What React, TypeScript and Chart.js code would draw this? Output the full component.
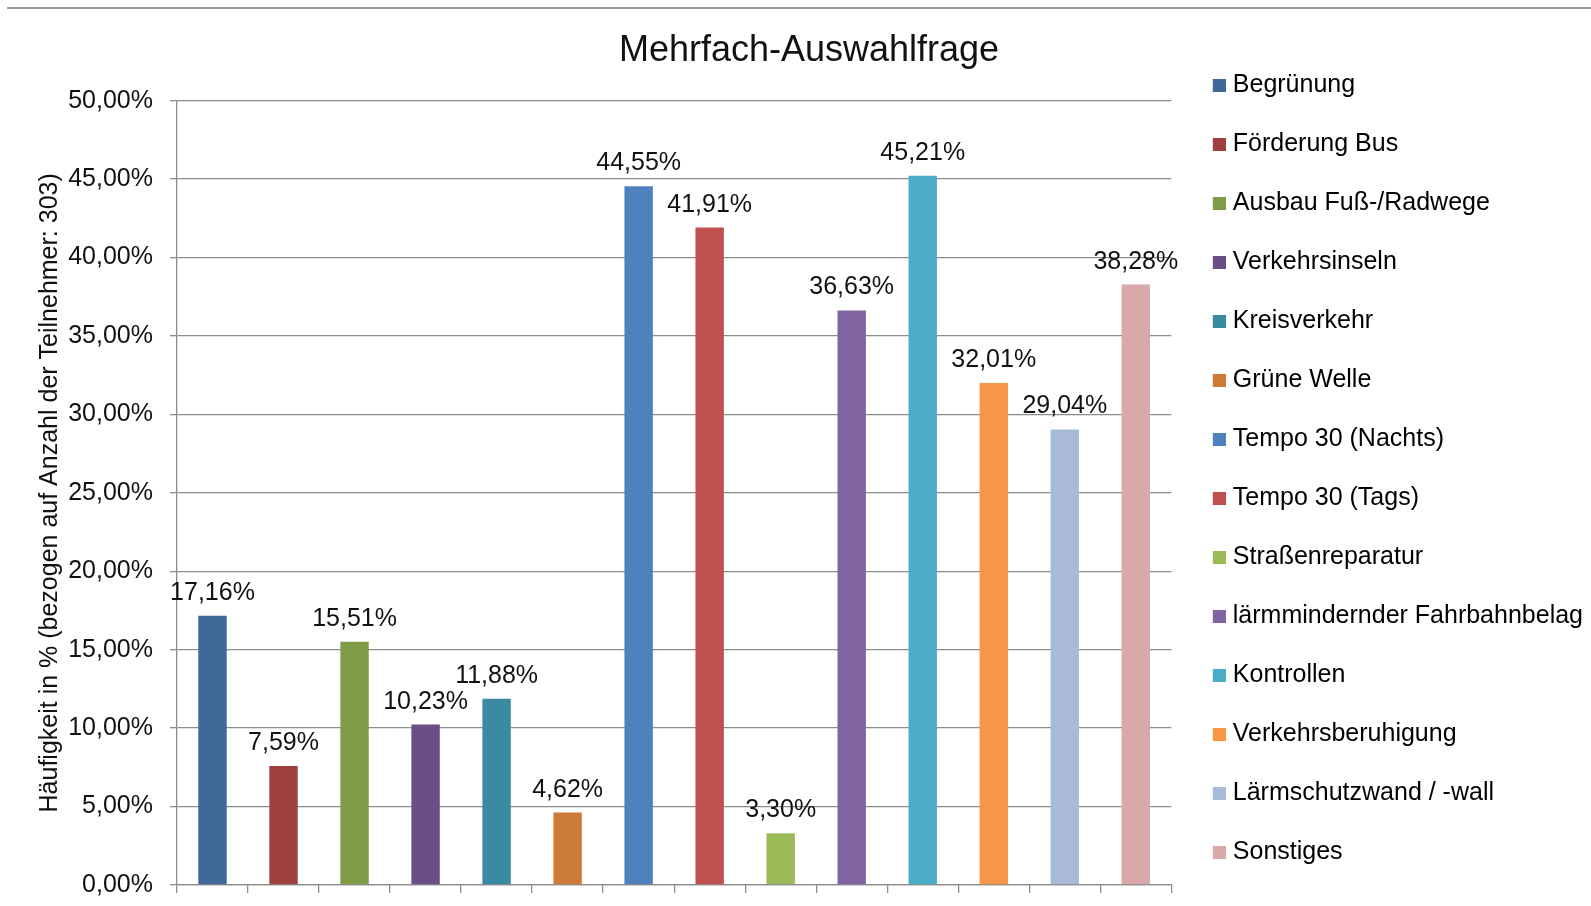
import React, { useEffect, useRef } from "react";
import { Chart, registerables } from "chart.js";

Chart.register(...registerables);

const chartTitle = "Mehrfach-Auswahlfrage";
const yAxisTitle = "Häufigkeit in % (bezogen auf Anzahl der Teilnehmer: 303)";

const categories = [
  "Begrünung",
  "Förderung Bus",
  "Ausbau Fuß-/Radwege",
  "Verkehrsinseln",
  "Kreisverkehr",
  "Grüne Welle",
  "Tempo 30 (Nachts)",
  "Tempo 30 (Tags)",
  "Straßenreparatur",
  "lärmmindernder Fahrbahnbelag",
  "Kontrollen",
  "Verkehrsberuhigung",
  "Lärmschutzwand / -wall",
  "Sonstiges",
];

const values = [17.16, 7.59, 15.51, 10.23, 11.88, 4.62, 44.55, 41.91, 3.3, 36.63, 45.21, 32.01, 29.04, 38.28];

const colors = [
  "#406898",
  "#9E413E",
  "#7F9B48",
  "#6A4F86",
  "#3A8BA2",
  "#CC7B38",
  "#4F81BD",
  "#C0504D",
  "#9BBB59",
  "#8064A2",
  "#4BACC6",
  "#F79646",
  "#A9BAD7",
  "#D9A8A8",
];

const yMin = 0;
const yMax = 50;
const yStep = 5;

const FONT = "'Liberation Sans', Arial, sans-serif";
const TEXT = "#111111";
const GRID = "#8c8c8c";

const fmt = (v: number) => v.toFixed(2).replace(".", ",") + "%";

// legend marker: 13px square placed in the right half of a 26px wide canvas
const makeMarker = (color: string) => {
  const c = document.createElement("canvas");
  c.width = 26;
  c.height = 13;
  const g = c.getContext("2d");
  if (g) {
    g.fillStyle = color;
    g.fillRect(13, 0, 13, 13);
  }
  return c;
};

const valueLabels = {
  id: "valueLabels",
  afterDatasetsDraw(chart: any) {
    const ctx = chart.ctx;
    const meta = chart.getDatasetMeta(0);
    ctx.save();
    ctx.font = `25px ${FONT}`;
    ctx.fillStyle = TEXT;
    ctx.textAlign = "center";
    ctx.textBaseline = "alphabetic";
    meta.data.forEach((el: any, i: number) => {
      const v = chart.data.datasets[0].data[i];
      ctx.fillText(fmt(v), el.x, el.y - 16);
    });
    ctx.restore();
  },
};

export default function App() {
  const ref = useRef<HTMLCanvasElement | null>(null);

  useEffect(() => {
    if (!ref.current) return;
    const markers = colors.map(makeMarker);
    const chart = new Chart(ref.current, {
      type: "bar",
      data: {
        labels: categories,
        datasets: [
          {
            label: chartTitle,
            data: values,
            backgroundColor: colors,
            borderWidth: 0,
            barPercentage: 0.4,
            categoryPercentage: 1,
          },
        ],
      },
      options: {
        responsive: false,
        animation: false,
        devicePixelRatio: 1,
        layout: { padding: { left: 25, right: -2, top: 0, bottom: 7 } },
        plugins: {
          tooltip: { enabled: false },
          title: {
            display: true,
            text: chartTitle,
            color: TEXT,
            font: { family: FONT, size: 36, weight: "normal" },
            padding: { top: 29, bottom: 28.5 },
          },
          legend: {
            display: true,
            position: "right",
            align: "end",
            maxWidth: 500,
            labels: {
              color: TEXT,
              font: { family: FONT, size: 25 },
              usePointStyle: true,
              pointStyleWidth: 15,
              boxWidth: 15,
              boxHeight: 13,
              padding: 34,
              generateLabels: () =>
                categories.map((c, i) => ({
                  text: c,
                  fillStyle: colors[i],
                  strokeStyle: colors[i],
                  lineWidth: 0,
                  pointStyle: markers[i],
                  hidden: false,
                  index: i,
                  datasetIndex: 0,
                })),
            },
            onClick: () => {},
          },
        },
        scales: {
          x: {
            offset: true,
            afterFit: (s: any) => {
              s.height = 14;
              s.paddingLeft = 0;
              s.paddingRight = 0;
            },
            grid: {
              offset: true,
              drawOnChartArea: false,
              drawTicks: true,
              tickLength: 8,
              color: GRID,
              lineWidth: 1.3,
            },
            border: { display: true, color: GRID, width: 1.3 },
            ticks: { display: false },
          },
          y: {
            min: yMin,
            max: yMax,
            afterFit: (s: any) => {
              s.width = 152;
              s.paddingTop = 0;
              s.paddingBottom = 0;
            },
            ticks: {
              stepSize: yStep,
              padding: 17,
              color: TEXT,
              font: { family: FONT, size: 25 },
              callback: (v: any) => fmt(Number(v)),
            },
            grid: {
              color: GRID,
              lineWidth: 1.3,
              tickLength: 7,
              drawTicks: true,
            },
            border: { display: true, color: GRID, width: 1.3 },
            title: {
              display: true,
              text: yAxisTitle,
              color: TEXT,
              font: { family: FONT, size: 25 },
              padding: { top: 10, bottom: 0 },
            },
          },
        },
      },
      plugins: [valueLabels],
    });
    return () => chart.destroy();
  }, []);

  return (
    <div style={{ position: "absolute", left: 0, top: 0, width: 1591, height: 906, background: "#fff" }}>
      <div style={{ position: "absolute", left: 7, top: 7, width: 1584, height: 2, background: "#9c9c9c" }} />
      <canvas ref={ref} width={1591} height={906} style={{ position: "absolute", left: 0, top: 0, display: "block" }} />
    </div>
  );
}
